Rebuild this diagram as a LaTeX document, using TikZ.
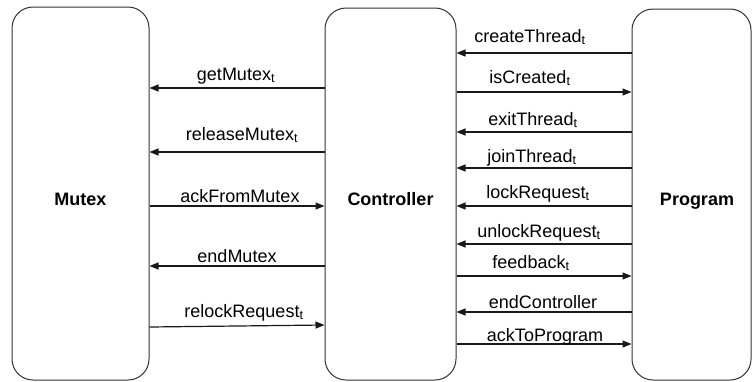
\documentclass[tikz,border=0pt]{standalone}
\usepackage{fontspec}
\setmainfont{Liberation Sans}
\usetikzlibrary{arrows.meta}
\tikzset{
  box/.style={draw=black!80, line width=1pt, rounded corners=21pt, inner sep=0pt},
  boxtext/.style={font=\fontsize{18}{22}\selectfont\bfseries, inner sep=0pt, anchor=base},
  arr/.style={draw=black!90, line width=1.2pt, -{Triangle[length=9pt,width=7pt]}},
  lbl/.style={font=\fontsize{18}{22}\selectfont, inner sep=0pt, anchor=base}
}
\newcommand{\sbt}{\textsubscript{t}}
\begin{document}
\begin{tikzpicture}[x=1pt,y=-1pt]
\useasboundingbox (0,0) rectangle (753,381);
% boxes
\node[box, minimum width=137pt, minimum height=373pt] (mutex) at (80.5,193.5) {};
\node[box, minimum width=131pt, minimum height=372pt] (ctrl) at (390.5,194) {};
\node[box, minimum width=119pt, minimum height=371pt] (prog) at (691.5,194.5) {};
\node[boxtext] (tmutex) at (80.5,205) {Mutex};
\node[boxtext] (tctrl) at (390.5,205) {Controller};
\node[boxtext] (tprog) at (697,205) {Program};
% left arrows
\draw[arr] (ctrl.west |- 0,88) -- (mutex.east |- 0,88);
\node[lbl] (l1) at (236,80) {getMutex\sbt};
\draw[arr] (ctrl.west |- 0,152) -- (mutex.east |- 0,152);
\node[lbl] (l2) at (242,140) {releaseMutex\sbt};
\draw[arr] (mutex.east |- 0,206) -- (ctrl.west |- 0,206);
\node[lbl] (l3) at (240,202) {ackFromMutex};
\draw[arr] (ctrl.west |- 0,266) -- (mutex.east |- 0,266);
\node[lbl] (l4) at (237,262) {endMutex};
\draw[arr] (mutex.east |- 0,327) -- (ctrl.west |- 0,325);
\node[lbl] (l5) at (244,317) {relockRequest\sbt};
% right arrows
\draw[arr] (prog.west |- 0,53) -- (ctrl.east |- 0,53);
\node[lbl] (r1) at (530,42) {createThread\sbt};
\draw[arr] (ctrl.east |- 0,92) -- (prog.west |- 0,92);
\node[lbl] (r2) at (530,83) {isCreated\sbt};
\draw[arr] (prog.west |- 0,132) -- (ctrl.east |- 0,132);
\node[lbl] (r3) at (533,125) {exitThread\sbt};
\draw[arr] (prog.west |- 0,168) -- (ctrl.east |- 0,168);
\node[lbl] (r4) at (532,162) {joinThread\sbt};
\draw[arr] (prog.west |- 0,206) -- (ctrl.east |- 0,206);
\node[lbl] (r5) at (538,198) {lockRequest\sbt};
\draw[arr] (prog.west |- 0,244) -- (ctrl.east |- 0,244);
\node[lbl] (r6) at (539,237) {unlockRequest\sbt};
\draw[arr] (ctrl.east |- 0,276) -- (prog.west |- 0,276);
\node[lbl] (r7) at (531,268) {feedback\sbt};
\draw[arr] (prog.west |- 0,312) -- (ctrl.east |- 0,312);
\node[lbl] (r8) at (543,308) {endController};
\draw[arr] (ctrl.east |- 0,344) -- (prog.west |- 0,344);
\node[lbl] (r9) at (545,341) {ackToProgram};
\end{tikzpicture}
\end{document}
